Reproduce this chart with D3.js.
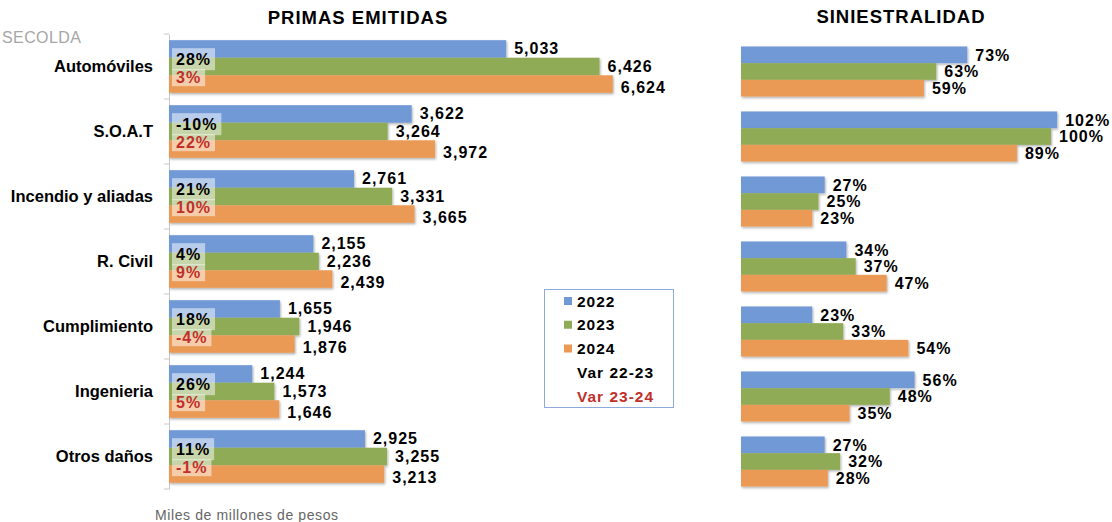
<!DOCTYPE html>
<html>
<head>
<meta charset="utf-8">
<script src="https://cdn.jsdelivr.net/npm/d3@7"></script>
<style>
  body { margin: 0; background: #fff; }
  text { font-family: "Liberation Sans", Arial, sans-serif; }
</style>
</head>
<body>
<div id="chart"></div>
<script>
// data
var categories = ["Automóviles", "S.O.A.T", "Incendio y aliadas", "R. Civil", "Cumplimiento", "Ingenieria", "Otros daños"];
var years = ["2022", "2023", "2024"];
var primas2022 = [5033, 3622, 2761, 2155, 1655, 1244, 2925];
var primas2023 = [6426, 3264, 3331, 2236, 1946, 1573, 3255];
var primas2024 = [6624, 3972, 3665, 2439, 1876, 1646, 3213];
var var2223 = ["28%", "-10%", "21%", "4%", "18%", "26%", "11%"];
var var2324 = ["3%", "22%", "10%", "9%", "-4%", "5%", "-1%"];
var sin2022 = [73, 102, 27, 34, 23, 56, 27];
var sin2023 = [63, 100, 25, 37, 33, 48, 32];
var sin2024 = [59, 89, 23, 47, 54, 35, 28];
var legendLabels = ["2022", "2023", "2024", "Var 22-23", "Var 23-24"];

var colors = ["#7099d6", "#8fab55", "#eb9a55"];
var red = "#c0302a";
var labelShift = [-1, 0, 3]; // value labels sit a little apart in the original

var width = 1112, height = 522;

var svg = d3.select("#chart")
    .append("svg")
    .attr("width", width)
    .attr("height", height);

// soft shadow under the bars
var shadow = svg.append("defs").append("filter")
    .attr("id", "shadow")
    .attr("x", "-5%").attr("y", "-20%")
    .attr("width", "110%").attr("height", "150%");
shadow.append("feDropShadow")
    .attr("dx", 1).attr("dy", 1.5)
    .attr("stdDeviation", 1)
    .attr("flood-color", "#000")
    .attr("flood-opacity", 0.3);

var primas = categories.map((c, i) => ({cat: c, vals: [primas2022[i], primas2023[i], primas2024[i]], v1: var2223[i], v2: var2324[i]}));
var sinies = categories.map((c, i) => ({cat: c, vals: [sin2022[i], sin2023[i], sin2024[i]]}));

// ---------- left chart: primas emitidas ----------
var x = d3.scaleLinear().domain([0, 7000]).range([169, 638]);
var y = d3.scaleBand().domain(categories).range([34, 489])
    .paddingInner(0.19).paddingOuter(0.095);
var yInner = d3.scaleBand().domain(years).range([0, y.bandwidth()]);

var yAxis = d3.axisLeft(y).tickSizeInner(0).tickSizeOuter(0).tickPadding(16);
var ax = svg.append("g")
    .attr("transform", "translate(169,0)")
    .call(yAxis);
ax.select(".domain").attr("stroke", "#c8c8c8");
ax.selectAll("text")
    .style("font-size", "16.5px")
    .style("font-weight", "bold")
    .attr("fill", "#000");

// ticks between categories
var bounds = categories.map(c => y(c) - y.step() * y.paddingInner() / 2).concat([489]);
svg.append("g").selectAll("line")
    .data(bounds)
    .enter().append("line")
    .attr("x1", 164).attr("x2", 169)
    .attr("y1", d => d).attr("y2", d => d)
    .attr("stroke", "#c8c8c8");

var groups = svg.append("g").selectAll("g")
    .data(primas)
    .enter().append("g")
    .attr("transform", d => "translate(0," + y(d.cat) + ")");

groups.selectAll("rect")
    .data(d => d.vals)
    .enter().append("rect")
    .attr("x", x(0))
    .attr("y", (d, i) => yInner(years[i]))
    .attr("width", d => x(d) - x(0))
    .attr("height", yInner.bandwidth())
    .attr("fill", (d, i) => colors[i])
    .attr("filter", "url(#shadow)");

groups.selectAll(".val")
    .data(d => d.vals)
    .enter().append("text")
    .attr("class", "val")
    .attr("x", d => x(d) + 8)
    .attr("y", (d, i) => yInner(years[i]) + yInner.bandwidth() / 2 + labelShift[i])
    .attr("dy", "0.36em")
    .style("font-size", "16px")
    .style("font-weight", "bold")
    .style("letter-spacing", "1px")
    .text(d => d3.format(",")(d));

// variation labels with light boxes
groups.each(function (d) {
    var g = d3.select(this);
    var rows = [{t: d.v1, c: "#000", y0: 8, h: 22, ty: 19}, {t: d.v2, c: red, y0: 29, h: 17, ty: 37}];
    rows.forEach(function (r) {
        var box = g.append("rect")
            .attr("x", 172)
            .attr("y", r.y0)
            .attr("height", r.h)
            .attr("fill", "#fff")
            .attr("fill-opacity", 0.5);
        var t = g.append("text")
            .attr("x", 176)
            .attr("y", r.ty)
            .attr("dy", "0.36em")
            .attr("fill", r.c)
            .style("font-size", "16px")
            .style("font-weight", "bold")
            .style("letter-spacing", "1px")
            .text(r.t);
        box.attr("width", t.node().getComputedTextLength() + 8);
    });
});

svg.append("text")
    .attr("x", 358).attr("y", 24)
    .attr("text-anchor", "middle")
    .style("font-size", "18.5px")
    .style("font-weight", "bold")
    .style("letter-spacing", "1px")
    .text("PRIMAS EMITIDAS");

svg.append("text")
    .attr("x", 2).attr("y", 43)
    .attr("fill", "#a6a6a6")
    .style("font-size", "16px")
    .style("letter-spacing", "0.4px")
    .text("SECOLDA");

svg.append("text")
    .attr("x", 155).attr("y", 520)
    .attr("fill", "#666")
    .style("font-size", "14px")
    .style("letter-spacing", "0.6px")
    .text("Miles de millones de pesos");

// ---------- right chart: siniestralidad ----------
var x2 = d3.scaleLinear().domain([0, 110]).range([741, 1082]);
var y2 = d3.scaleBand().domain(categories).range([39, 494])
    .paddingInner(0.23).paddingOuter(0.115);
var y2Inner = d3.scaleBand().domain(years).range([0, y2.bandwidth()]);

var groups2 = svg.append("g").selectAll("g")
    .data(sinies)
    .enter().append("g")
    .attr("transform", d => "translate(0," + y2(d.cat) + ")");

groups2.selectAll("rect")
    .data(d => d.vals)
    .enter().append("rect")
    .attr("x", x2(0))
    .attr("y", (d, i) => y2Inner(years[i]))
    .attr("width", d => x2(d) - x2(0))
    .attr("height", y2Inner.bandwidth())
    .attr("fill", (d, i) => colors[i])
    .attr("filter", "url(#shadow)");

groups2.selectAll(".val")
    .data(d => d.vals)
    .enter().append("text")
    .attr("class", "val")
    .attr("x", d => x2(d) + 8)
    .attr("y", (d, i) => y2Inner(years[i]) + y2Inner.bandwidth() / 2)
    .attr("dy", "0.36em")
    .style("font-size", "16px")
    .style("font-weight", "bold")
    .style("letter-spacing", "1px")
    .text(d => d + "%");

svg.append("text")
    .attr("x", 901).attr("y", 23)
    .attr("text-anchor", "middle")
    .style("font-size", "18.5px")
    .style("font-weight", "bold")
    .style("letter-spacing", "1px")
    .text("SINIESTRALIDAD");

// ---------- legend ----------
var legend = svg.append("g");
legend.append("rect")
    .attr("x", 544.5).attr("y", 289.5)
    .attr("width", 129).attr("height", 118)
    .attr("fill", "#fff")
    .attr("stroke", "#8eaad8");

var legendY = d3.scalePoint().domain(legendLabels).range([301, 396]);
var items = legend.selectAll(".item")
    .data(legendLabels)
    .enter().append("g")
    .attr("class", "item")
    .attr("transform", d => "translate(0," + legendY(d) + ")");

items.filter((d, i) => i < 3).append("rect")
    .attr("x", 564).attr("y", -4)
    .attr("width", 8).attr("height", 8)
    .attr("fill", (d, i) => colors[i]);

items.append("text")
    .attr("x", 577)
    .attr("dy", "0.36em")
    .attr("fill", (d, i) => i === 4 ? red : "#000")
    .style("font-size", "15.5px")
    .style("font-weight", "bold")
    .style("letter-spacing", "1px")
    .text(d => d);
</script>
</body>
</html>
